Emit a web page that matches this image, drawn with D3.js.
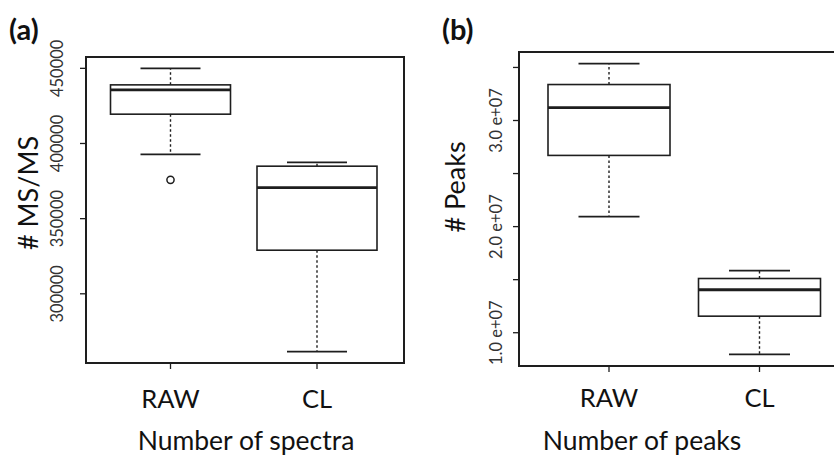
<!DOCTYPE html>
<html>
<head>
<meta charset="utf-8">
<script src="https://cdn.jsdelivr.net/npm/d3@7"></script>
<style>
  html, body { margin: 0; padding: 0; background: #fff; }
  svg { display: block; }
  text { font-family: Lato, "Open Sans", sans-serif; }
</style>
</head>
<body>
<svg id="chart" width="834" height="457"></svg>
<script>
// Groups compared in both panels
const categories = ["RAW", "CL"];

// (a) Number of MS/MS spectra: five-number summaries per group
const spectraWhiskerLow  = [392700, 261500];
const spectraQ1          = [419500, 329000];
const spectraMedian      = [435700, 370600];
const spectraQ3          = [439000, 384900];
const spectraWhiskerHigh = [450000, 387400];
const spectraOutliers    = [[375800], []];
const spectraTicks       = [300000, 350000, 400000, 450000];
const spectraTickLabels  = ["300000", "350000", "400000", "450000"];

// (b) Number of peaks: five-number summaries per group
const peaksWhiskerLow  = [2.094e7, 0.796e7];
const peaksQ1          = [2.671e7, 1.156e7];
const peaksMedian      = [3.122e7, 1.405e7];
const peaksQ3          = [3.339e7, 1.511e7];
const peaksWhiskerHigh = [3.536e7, 1.586e7];
const peaksOutliers    = [[], []];
const peaksTicks       = [1.0e7, 1.5e7, 2.0e7, 2.5e7, 3.0e7, 3.5e7];
const peaksTickLabels  = ["1.0 e+07", "", "2.0 e+07", "", "3.0 e+07", ""];

const svg = d3.select("#chart");
const ink = "#1e1e1e";

function boxPanel(cfg) {
  const g = svg.append("g");
  const lo = d3.min(cfg.whiskerLow), hi = d3.max(cfg.whiskerHigh);
  const pad = (hi - lo) * 0.04;   // R-style 4% axis expansion
  const y = d3.scaleLinear().domain([lo - pad, hi + pad]).range([cfg.bottom, cfg.top]);
  const x = d3.scalePoint().domain(categories).range(cfg.centers);

  const rows = categories.map((c, i) => ({
    cat: c,
    wl: cfg.whiskerLow[i], q1: cfg.q1[i], med: cfg.median[i],
    q3: cfg.q3[i], wh: cfg.whiskerHigh[i], out: cfg.outliers[i]
  }));

  const bw = cfg.boxWidth, cw = cfg.boxWidth / 2;

  rows.forEach(d => {
    const cx = x(d.cat);
    // whiskers (dashed)
    [[d.q3, d.wh], [d.q1, d.wl]].forEach(([a, b]) => {
      g.append("line").attr("x1", cx).attr("x2", cx)
        .attr("y1", y(a)).attr("y2", y(b))
        .attr("stroke", ink).attr("stroke-width", 1.4).attr("stroke-dasharray", "2.5,2.5");
    });
    // whisker caps
    [d.wl, d.wh].forEach(v => {
      g.append("line").attr("x1", cx - cw / 2).attr("x2", cx + cw / 2)
        .attr("y1", y(v)).attr("y2", y(v))
        .attr("stroke", ink).attr("stroke-width", 1.7);
    });
    // box
    g.append("rect").attr("x", cx - bw / 2).attr("width", bw)
      .attr("y", y(d.q3)).attr("height", y(d.q1) - y(d.q3))
      .attr("fill", "#fff").attr("stroke", ink).attr("stroke-width", 1.6);
    // median
    g.append("line").attr("x1", cx - bw / 2).attr("x2", cx + bw / 2)
      .attr("y1", y(d.med)).attr("y2", y(d.med))
      .attr("stroke", ink).attr("stroke-width", 2.8);
    // outliers
    d.out.forEach(v => {
      g.append("circle").attr("cx", cx).attr("cy", y(v)).attr("r", 3.6)
        .attr("fill", "none").attr("stroke", ink).attr("stroke-width", 1.5);
    });
  });

  // plot frame
  g.append("rect").attr("x", cfg.left).attr("y", cfg.top)
    .attr("width", cfg.right - cfg.left).attr("height", cfg.bottom - cfg.top)
    .attr("fill", "none").attr("stroke", ink).attr("stroke-width", 2);

  // y axis ticks and rotated labels
  cfg.ticks.forEach((t, i) => {
    g.append("line").attr("x1", cfg.left - 6).attr("x2", cfg.left)
      .attr("y1", y(t)).attr("y2", y(t)).attr("stroke", ink).attr("stroke-width", 1.3);
    if (cfg.tickLabels[i]) {
      g.append("text")
        .attr("transform", `translate(${cfg.tickLabelX},${y(t)}) rotate(-90)`)
        .attr("text-anchor", "middle").attr("font-size", 16.5).attr("fill", "#333")
        .text(cfg.tickLabels[i]);
    }
  });

  // x axis ticks and category labels
  categories.forEach(c => {
    g.append("line").attr("x1", x(c)).attr("x2", x(c))
      .attr("y1", cfg.bottom).attr("y2", cfg.bottom + 6)
      .attr("stroke", ink).attr("stroke-width", 1.3);
    g.append("text").attr("x", x(c)).attr("y", cfg.catBaseline)
      .attr("text-anchor", "middle").attr("font-size", 25.5).attr("fill", "#111")
      .text(c);
  });

  // axis titles
  g.append("text")
    .attr("transform", `translate(${cfg.yTitleX},${cfg.yTitleY}) rotate(-90)`)
    .attr("text-anchor", "middle").attr("font-size", 27).attr("fill", "#111")
    .text(cfg.yTitle);
  g.append("text").attr("x", cfg.xTitleX).attr("y", 450)
    .attr("text-anchor", "middle").attr("font-size", 26.5).attr("fill", "#111")
    .text(cfg.xTitle);

  // panel tag
  g.append("text").attr("x", cfg.tagX).attr("y", 40)
    .attr("font-size", 29).attr("font-weight", "bold").attr("fill", "#111")
    .text(cfg.tag);
}

boxPanel({
  tag: "(a)", tagX: 9,
  left: 86, right: 404, top: 57, bottom: 363,
  centers: [170.5, 317], boxWidth: 120,
  whiskerLow: spectraWhiskerLow, q1: spectraQ1, median: spectraMedian,
  q3: spectraQ3, whiskerHigh: spectraWhiskerHigh, outliers: spectraOutliers,
  ticks: spectraTicks, tickLabels: spectraTickLabels, tickLabelX: 63,
  catBaseline: 408,
  yTitle: "# MS/MS", yTitleX: 38, yTitleY: 193,
  xTitle: "Number of spectra", xTitleX: 246
});

boxPanel({
  tag: "(b)", tagX: 442,
  left: 519, right: 852, top: 52, bottom: 366,
  centers: [609, 759.5], boxWidth: 122,
  whiskerLow: peaksWhiskerLow, q1: peaksQ1, median: peaksMedian,
  q3: peaksQ3, whiskerHigh: peaksWhiskerHigh, outliers: peaksOutliers,
  ticks: peaksTicks, tickLabels: peaksTickLabels, tickLabelX: 501.5,
  catBaseline: 407,
  yTitle: "# Peaks", yTitleX: 465, yTitleY: 187,
  xTitle: "Number of peaks", xTitleX: 642
});
</script>
</body>
</html>
